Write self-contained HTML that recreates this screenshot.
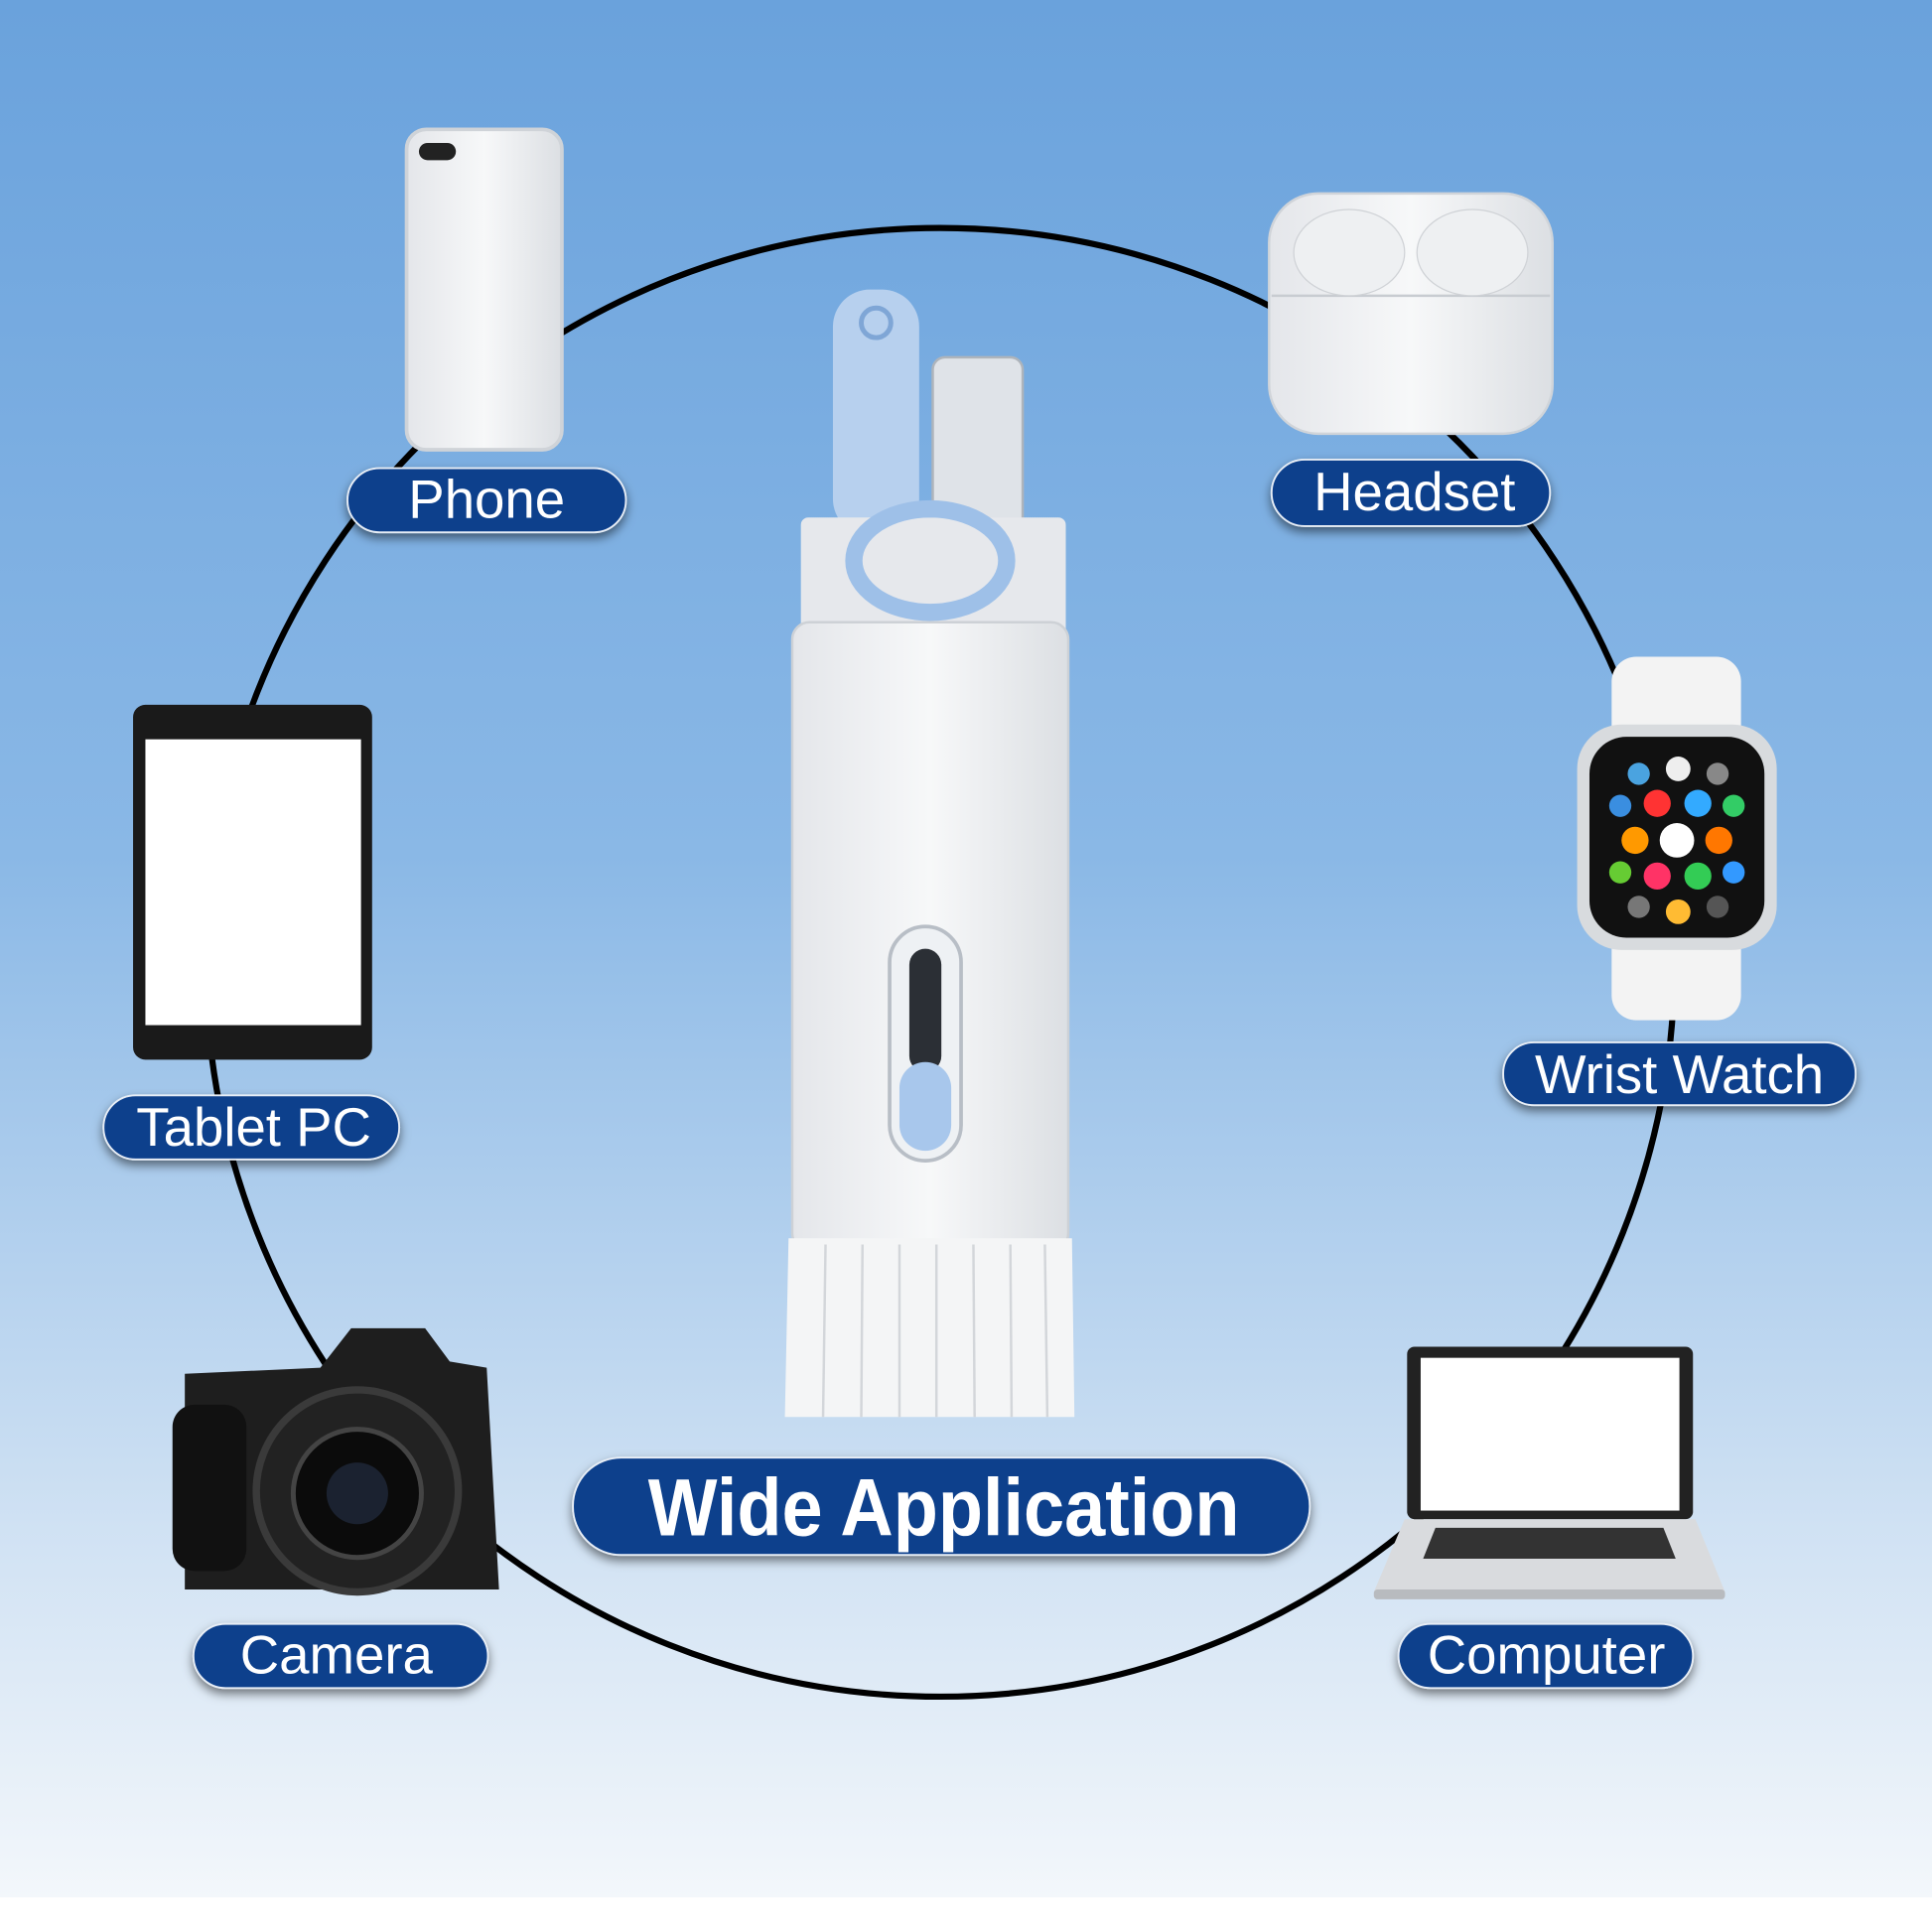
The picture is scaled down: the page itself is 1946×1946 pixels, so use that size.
<!DOCTYPE html>
<html><head><meta charset="utf-8"><style>
html,body{margin:0;padding:0;width:1946px;height:1946px;overflow:hidden;background:#fff}
svg{display:block}
text{font-family:"Liberation Sans",sans-serif;fill:#fff}
</style></head><body>
<svg width="1946" height="1946" viewBox="0 0 1568 1568" xmlns="http://www.w3.org/2000/svg">
<defs>
<linearGradient id="bg" x1="0" y1="0" x2="0" y2="1">
<stop offset="0" stop-color="#6aa2dc"/><stop offset="0.45" stop-color="#8ab8e6"/><stop offset="0.8" stop-color="#cfe1f3"/><stop offset="1" stop-color="#f3f7fb"/>
</linearGradient>
<linearGradient id="wh" x1="0" y1="0" x2="1" y2="0">
<stop offset="0" stop-color="#e4e6ea"/><stop offset="0.5" stop-color="#f7f8f9"/><stop offset="1" stop-color="#dcdfe3"/>
</linearGradient>
<filter id="sh"><feDropShadow dx="0" dy="4" stdDeviation="4" flood-color="#000" flood-opacity="0.5"/></filter>
</defs>
<rect width="1568" height="1540" fill="url(#bg)"/>
<rect y="1540" width="1568" height="28" fill="#fff"/>
<circle cx="763" cy="781" r="596" fill="none" stroke="#000" stroke-width="5"/>

<!-- Phone -->
<rect x="330" y="105" width="126" height="260" rx="16" fill="url(#wh)" stroke="#cfd3d8" stroke-width="3"/>
<rect x="340" y="116" width="30" height="14" rx="7" fill="#222"/>
<!-- Headset -->
<rect x="1030" y="157" width="230" height="195" rx="40" fill="url(#wh)" stroke="#d0d4d9" stroke-width="2"/>
<line x1="1032" y1="240" x2="1258" y2="240" stroke="#c8ccd1" stroke-width="2"/>
<ellipse cx="1095" cy="205" rx="45" ry="35" fill="#eef0f2" stroke="#cfd2d6"/>
<ellipse cx="1195" cy="205" rx="45" ry="35" fill="#eef0f2" stroke="#cfd2d6"/>
<!-- Watch -->
<rect x="1308" y="533" width="105" height="80" rx="20" fill="#f3f3f3"/>
<rect x="1308" y="750" width="105" height="78" rx="20" fill="#f3f3f3"/>
<rect x="1280" y="588" width="162" height="183" rx="36" fill="#d8dbde"/>
<rect x="1290" y="598" width="142" height="163" rx="30" fill="#111"/>
<g fill="#e85">
<circle cx="1330" cy="628" r="9" fill="#4aa3e0"/><circle cx="1362" cy="624" r="10" fill="#eee"/><circle cx="1394" cy="628" r="9" fill="#888"/>
<circle cx="1315" cy="654" r="9" fill="#3a8ee0"/><circle cx="1345" cy="652" r="11" fill="#f33"/><circle cx="1378" cy="652" r="11" fill="#3af"/><circle cx="1407" cy="654" r="9" fill="#3c6"/>
<circle cx="1327" cy="682" r="11" fill="#f90"/><circle cx="1361" cy="682" r="14" fill="#fff"/><circle cx="1395" cy="682" r="11" fill="#f70"/>
<circle cx="1315" cy="708" r="9" fill="#6c3"/><circle cx="1345" cy="711" r="11" fill="#f36"/><circle cx="1378" cy="711" r="11" fill="#3c5"/><circle cx="1407" cy="708" r="9" fill="#39f"/>
<circle cx="1330" cy="736" r="9" fill="#777"/><circle cx="1362" cy="740" r="10" fill="#fb3"/><circle cx="1394" cy="736" r="9" fill="#555"/>
</g>
<!-- Tablet -->
<rect x="108" y="572" width="194" height="288" rx="10" fill="#1a1a1a"/>
<rect x="118" y="600" width="175" height="232" fill="#fff"/>
<!-- Camera -->
<path d="M150 1115 L260 1110 L285 1078 L345 1078 L365 1105 L395 1110 L405 1290 L150 1290 Z" fill="#1e1e1e"/>
<rect x="140" y="1140" width="60" height="135" rx="18" fill="#111"/>
<circle cx="290" cy="1210" r="82" fill="#222" stroke="#3a3a3a" stroke-width="6"/>
<circle cx="290" cy="1212" r="52" fill="#0b0b0b" stroke="#444" stroke-width="4"/>
<circle cx="290" cy="1212" r="25" fill="#1b2230"/>
<!-- Laptop -->
<rect x="1142" y="1093" width="232" height="140" rx="6" fill="#222"/>
<rect x="1153" y="1102" width="210" height="124" fill="#fff"/>
<path d="M1140 1233 L1376 1233 L1400 1292 L1115 1292 Z" fill="#d9dbde"/>
<path d="M1165 1240 L1350 1240 L1360 1265 L1155 1265 Z" fill="#333"/>
<rect x1="1115" x="1115" y="1290" width="285" height="8" rx="3" fill="#b8bbbf"/>

<!-- Center tool -->
<rect x="676" y="235" width="70" height="200" rx="30" fill="#b7d0ee"/>
<circle cx="711" cy="262" r="12" fill="none" stroke="#7fa6d6" stroke-width="4"/>
<rect x="757" y="290" width="73" height="140" rx="10" fill="#dfe3e8" stroke="#aeb4bb" stroke-width="2"/>
<rect x="650" y="420" width="215" height="105" rx="6" fill="#e6e8ec"/>
<ellipse cx="755" cy="455" rx="62" ry="42" fill="none" stroke="#9ec0e8" stroke-width="14"/>
<rect x="643" y="505" width="224" height="510" rx="14" fill="url(#wh)" stroke="#cdd1d6" stroke-width="2"/>
<rect x="722" y="752" width="58" height="190" rx="29" fill="#eef1f4" stroke="#b8bec6" stroke-width="3"/>
<rect x="738" y="770" width="26" height="100" rx="13" fill="#2b2f35"/>
<rect x="730" y="862" width="42" height="72" rx="21" fill="#a8c7ec"/>
<path d="M640 1005 L870 1005 L872 1150 L637 1150 Z" fill="#f4f5f6"/>
<g stroke="#d3d6da" stroke-width="2">
<line x1="670" y1="1010" x2="668" y2="1150"/><line x1="700" y1="1010" x2="699" y2="1150"/><line x1="730" y1="1010" x2="730" y2="1150"/><line x1="760" y1="1010" x2="760" y2="1150"/><line x1="790" y1="1010" x2="791" y2="1150"/><line x1="820" y1="1010" x2="821" y2="1150"/><line x1="848" y1="1010" x2="850" y2="1150"/>
</g>

<!-- Labels -->
<g filter="url(#sh)" fill="#0a3f8c" stroke="#e8eef6" stroke-width="1.5">
<rect x="282" y="380" width="226" height="52" rx="26"/>
<rect x="1032" y="373" width="226" height="54" rx="27"/>
<rect x="1220" y="846" width="286" height="51" rx="25"/>
<rect x="84" y="889" width="240" height="52" rx="26"/>
<rect x="157" y="1318" width="239" height="52" rx="26"/>
<rect x="1135" y="1318" width="239" height="52" rx="26"/>
<rect x="465" y="1183" width="598" height="79" rx="39"/>
</g>
<g font-size="44" text-anchor="middle">
<text x="395" y="420">Phone</text>
<text x="1148" y="414">Headset</text>
<text x="1363" y="887">Wrist Watch</text>
<text x="206" y="930">Tablet PC</text>
<text x="273" y="1358">Camera</text>
<text x="1255" y="1358">Computer</text>
</g>
<text x="766" y="1246" font-size="66" font-weight="bold" text-anchor="middle" textLength="480" lengthAdjust="spacingAndGlyphs">Wide Application</text>
</svg>
</body></html>
